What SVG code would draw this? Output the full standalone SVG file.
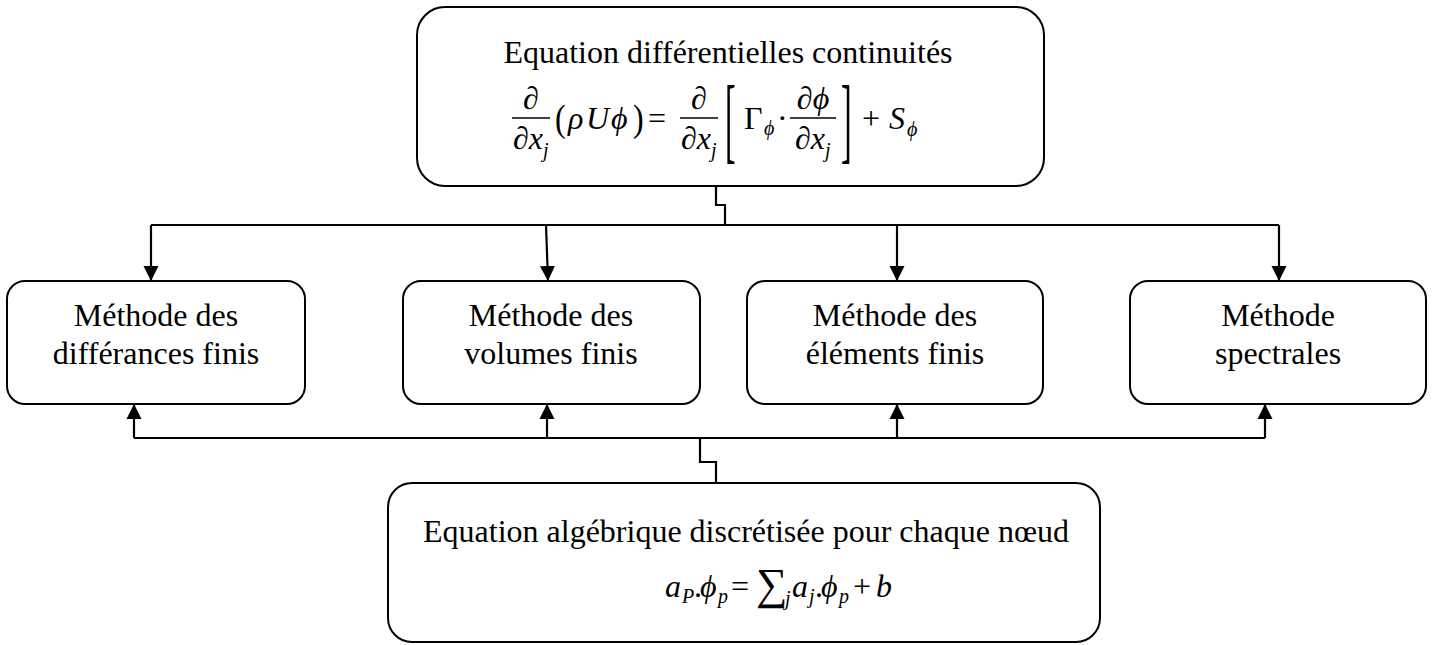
<svg xmlns="http://www.w3.org/2000/svg" width="1435" height="645" viewBox="0 0 1435 645">
<style>
.box{fill:#fff;stroke:#000;stroke-width:2}
.t{font-family:"Liberation Serif","Times New Roman",serif;font-size:32px;fill:#000}
.m{font-family:"Liberation Serif","DejaVu Serif","Times New Roman",serif;font-size:32px;fill:#000;font-style:italic}
.u{font-family:"Liberation Serif","Times New Roman",serif;font-size:32px;fill:#000}
.s{font-family:"Liberation Serif","DejaVu Serif","Times New Roman",serif;font-size:20px;fill:#000;font-style:italic}
.bar{stroke:#000;stroke-width:1.3}
.c{fill:none;stroke:#000;stroke-width:2.2}
</style>
<defs>
<marker id="ah" markerUnits="userSpaceOnUse" markerWidth="16" markerHeight="16" viewBox="0 0 16 16" refX="15" refY="8" orient="auto">
<path d="M0,0.5 L15,8 L0,15.5 Z" fill="#000"/>
</marker>
</defs>

<g id="connectors">
<path class="c" d="M716,186 V205 H725 V225"/>
<path class="c" d="M151,225 H1279"/>
<path class="c" d="M151,225 V281" marker-end="url(#ah)"/>
<path class="c" d="M546,225 L548,281" marker-end="url(#ah)"/>
<path class="c" d="M897,225 V281" marker-end="url(#ah)"/>
<path class="c" d="M1279,225 V281" marker-end="url(#ah)"/>
<path class="c" d="M134,438 H1265"/>
<path class="c" d="M134,438 V404" marker-end="url(#ah)"/>
<path class="c" d="M547,438 V404" marker-end="url(#ah)"/>
<path class="c" d="M897,438 V404" marker-end="url(#ah)"/>
<path class="c" d="M1265,438 V404" marker-end="url(#ah)"/>
<path class="c" d="M700,438 V462 H716 V483"/>
</g>

<g id="top">
<rect class="box" x="417" y="7" width="627" height="179" rx="28"/>
<text class="t" x="728" y="63" text-anchor="middle">Equation différentielles continuités</text>
<!-- frac 1 -->
<text class="m" x="531" y="109" text-anchor="middle">∂</text>
<line class="bar" x1="512" y1="118" x2="550" y2="118"/>
<text class="m" x="513" y="149">∂x</text>
<text class="s" x="543" y="157">j</text>
<!-- (rho U phi) -->
<text class="u" transform="translate(555,131) scale(1,1.2)">(</text>
<text class="m" x="568" y="129">ρ</text>
<text class="m" x="586" y="129">U</text>
<text class="m" x="611" y="129">ϕ</text>
<text class="u" transform="translate(633,131) scale(1,1.2)">)</text>
<text class="u" x="648" y="129">=</text>
<!-- frac 2 -->
<text class="m" x="699" y="109" text-anchor="middle">∂</text>
<line class="bar" x1="680" y1="118" x2="718" y2="118"/>
<text class="m" x="681" y="149">∂x</text>
<text class="s" x="711" y="157">j</text>
<text class="u" transform="translate(725,151) scale(1,3)">[</text>
<text class="u" x="744" y="129">Γ</text>
<text class="s" x="764" y="135">ϕ</text>
<text class="u" x="777" y="129">·</text>
<!-- frac 3 -->
<text class="m" x="813" y="109" text-anchor="middle">∂ϕ</text>
<line class="bar" x1="790" y1="118" x2="836" y2="118"/>
<text class="m" x="795" y="149">∂x</text>
<text class="s" x="825" y="157">j</text>
<text class="u" transform="translate(841,151) scale(1,3)">]</text>
<text class="u" x="862" y="129">+</text>
<text class="m" x="889" y="129">S</text>
<text class="s" x="907" y="136">ϕ</text>
</g>

<g id="m1">
<rect class="box" x="7" y="281" width="298" height="123" rx="18"/>
<text class="t" x="156" y="326" text-anchor="middle">Méthode des</text>
<text class="t" x="156" y="364" text-anchor="middle">différances finis</text>
</g>
<g id="m2">
<rect class="box" x="403" y="281" width="297" height="123" rx="18"/>
<text class="t" x="551" y="326" text-anchor="middle">Méthode des</text>
<text class="t" x="551" y="364" text-anchor="middle">volumes finis</text>
</g>
<g id="m3">
<rect class="box" x="747" y="281" width="296" height="123" rx="18"/>
<text class="t" x="895" y="326" text-anchor="middle">Méthode des</text>
<text class="t" x="895" y="364" text-anchor="middle">éléments finis</text>
</g>
<g id="m4">
<rect class="box" x="1130" y="281" width="296" height="123" rx="18"/>
<text class="t" x="1278" y="326" text-anchor="middle">Méthode</text>
<text class="t" x="1278" y="364" text-anchor="middle">spectrales</text>
</g>

<g id="bottom">
<rect class="box" x="388" y="483" width="712" height="159" rx="24"/>
<text class="t" x="746" y="542" text-anchor="middle">Equation algébrique discrétisée pour chaque nœud</text>
<text class="m" x="665" y="597">a</text>
<text class="s" x="682" y="603">P</text>
<text class="u" x="694" y="597">.</text>
<text class="m" x="700" y="597">ϕ</text>
<text class="s" x="718" y="603">p</text>
<text class="u" x="731" y="597">=</text>
<text class="u" x="756" y="599" style="font-size:44px">∑</text>
<text class="s" x="785" y="605">j</text>
<text class="m" x="792" y="597">a</text>
<text class="s" x="809" y="603">j</text>
<text class="u" x="815" y="597">.</text>
<text class="m" x="821" y="597">ϕ</text>
<text class="s" x="839" y="603">p</text>
<text class="u" x="853" y="597">+</text>
<text class="m" x="876" y="597">b</text>
</g>
</svg>
